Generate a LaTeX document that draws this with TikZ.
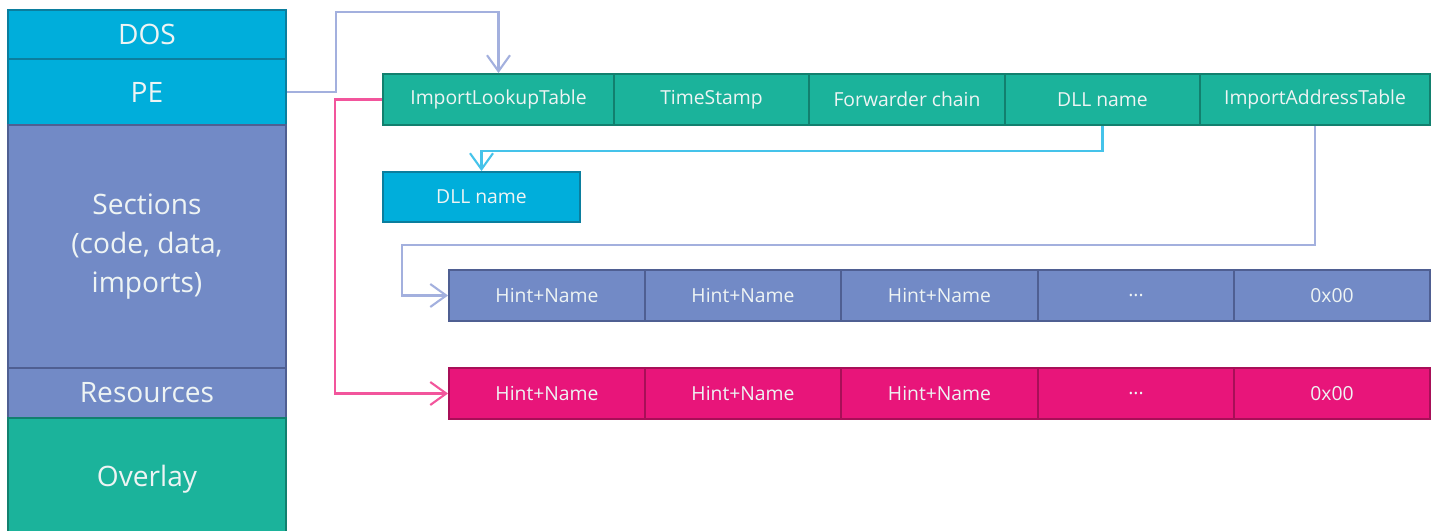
\documentclass[tikz,border=0pt]{standalone}
\usepackage{fontspec}
\setmainfont{Open Sans}
\usetikzlibrary{arrows.meta}
\definecolor{tealF}{HTML}{1BB39B}
\definecolor{tealD}{HTML}{12806E}
\definecolor{cyanF}{HTML}{00AEDB}
\definecolor{cyanD}{HTML}{0B7E9E}
\definecolor{periF}{HTML}{728AC6}
\definecolor{periD}{HTML}{4F5F92}
\definecolor{pinkF}{HTML}{E8157A}
\definecolor{pinkD}{HTML}{A80F58}
\definecolor{txt}{HTML}{EEF4F4}
\definecolor{lnPeri}{HTML}{A3B0DE}
\definecolor{lnPink}{HTML}{F2559C}
\definecolor{lnCyan}{HTML}{45C3EA}
\tikzset{
  box/.style={draw, line width=1.1pt, inner sep=0pt, text=txt, anchor=center},
  colbox/.style={box, minimum width=5.56cm, font=\fontsize{16}{22}\selectfont, align=center},
  cellfont/.style={font=\fontsize{11}{13}\selectfont},
  hdr/.style={box, cellfont, fill=tealF, draw=tealD, minimum height=1.02cm},
  cellB/.style={box, cellfont, fill=periF, draw=periD, minimum width=3.92cm, minimum height=1.02cm},
  cellP/.style={box, cellfont, fill=pinkF, draw=pinkD, minimum width=3.92cm, minimum height=1.02cm},
  conn/.style={line width=1.2pt, -{Straight Barb[length=3.2mm,width=4.6mm,line width=1.2pt]}},
}
\begin{document}
\begin{tikzpicture}[x=0.02cm, y=-0.02cm]
\useasboundingbox (0,0) rectangle (1438,531);

% file layout column
\node[colbox, fill=cyanF, draw=cyanD, minimum height=0.98cm] (DOS) at (147,34.5) {DOS};
\node[colbox, fill=cyanF, draw=cyanD, minimum height=1.32cm] (PE) at (147,92) {PE};
\node[colbox, fill=periF, draw=periD, minimum height=4.86cm] (SEC) at (147,246.5) {Sections\\(code, data,\\imports)};
\node[colbox, fill=periF, draw=periD, minimum height=1.0cm] (RES) at (147,393) {Resources};
\node[colbox, fill=tealF, draw=tealD, minimum height=2.44cm] (OVL) at (147,479) {Overlay};

% import descriptor
\node[hdr, minimum width=4.62cm] (ILT) at (498.5,99.5) {ImportLookupTable};
\node[hdr, minimum width=3.90cm] (TS)  at (711.5,99.5) {TimeStamp};
\node[hdr, minimum width=3.92cm] (FC)  at (907,99.5) {Forwarder chain};
\node[hdr, minimum width=3.90cm] (DLL) at (1102.5,99.5) {DLL name};
\node[hdr, minimum width=4.60cm] (IAT) at (1315,99.5) {ImportAddressTable};

% DLL name string
\node[box, cellfont, fill=cyanF, draw=cyanD, minimum width=3.94cm, minimum height=1.0cm] (NAME) at (481.5,197) {DLL name};

% import address table
\node[cellB] (B1) at (547,295.5) {Hint+Name};
\node[cellB] (B2) at (743,295.5) {Hint+Name};
\node[cellB] (B3) at (939.5,295.5) {Hint+Name};
\node[cellB] (B4) at (1136,295.5) {...};
\node[cellB] (B5) at (1332,295.5) {0x00};

% import lookup table
\node[cellP] (P1) at (547,393.5) {Hint+Name};
\node[cellP] (P2) at (743,393.5) {Hint+Name};
\node[cellP] (P3) at (939.5,393.5) {Hint+Name};
\node[cellP] (P4) at (1136,393.5) {...};
\node[cellP] (P5) at (1332,393.5) {0x00};

% pointers
\draw[conn, lnPeri] (PE.east) -| (336,12) -| (ILT.north);
\draw[conn, lnPink] (ILT.west) -- ++(-47,0) |- (P1.west);
\draw[conn, lnCyan] (DLL.south) -- ++(0,25) -| (NAME.north);
\draw[conn, lnPeri] (IAT.south) -- ++(0,119) -- ++(-913,0) |- (B1.west);
\end{tikzpicture}
\end{document}
